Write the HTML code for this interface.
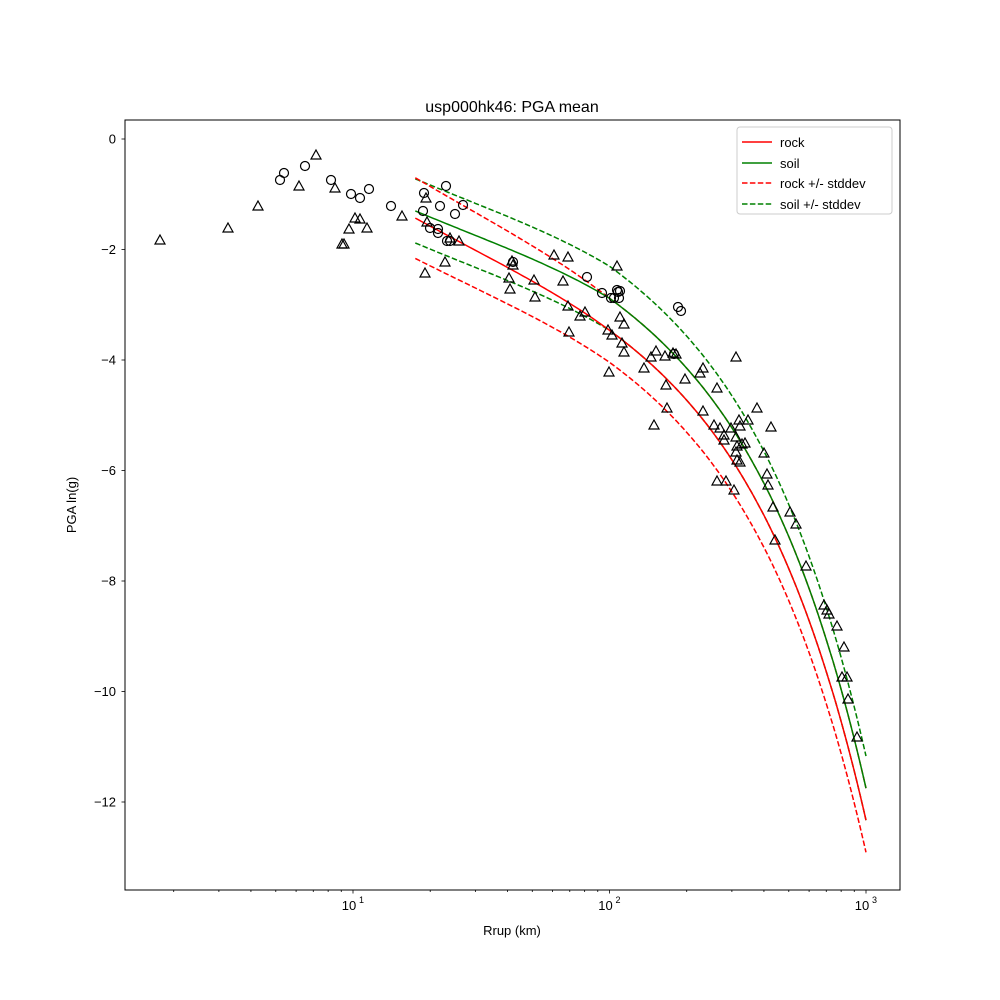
<!DOCTYPE html>
<html><head><meta charset="utf-8"><style>
body{margin:0;background:#fff}
svg{display:block;font-family:"Liberation Sans","DejaVu Sans",sans-serif}
</style></head><body>
<svg id="s" width="1000" height="1000" viewBox="0 0 1000 1000" xmlns="http://www.w3.org/2000/svg">
<rect width="1000" height="1000" fill="#fff"/>
<g id="curves" fill="none" stroke-width="1.5"></g>
<g id="pts" fill="none" stroke="#000" stroke-width="1.2"></g>
<rect x="125" y="120" width="775" height="770" fill="none" stroke="#000" stroke-width="1"/>
<g id="ticks" stroke="#000" stroke-width="0.8"></g>
<g id="labels" font-size="13" fill="#000"></g>
<text x="512" y="112" font-size="16" text-anchor="middle">usp000hk46: PGA mean</text>
<text x="512" y="935" font-size="13" text-anchor="middle">Rrup (km)</text>
<text x="0" y="0" font-size="13" text-anchor="middle" transform="translate(76,505) rotate(-90)">PGA ln(g)</text>
<g>
<rect x="737" y="127" width="155" height="87" fill="#fff" fill-opacity="0.8" stroke="#ccc" rx="3"/>
<line x1="742" y1="142" x2="772" y2="142" stroke="#f00" stroke-width="1.5"/>
<text x="780" y="147" font-size="13">rock</text>
<line x1="742" y1="163" x2="772" y2="163" stroke="#008000" stroke-width="1.5"/>
<text x="780" y="168" font-size="13">soil</text>
<line x1="742" y1="183" x2="772" y2="183" stroke="#f00" stroke-width="1.5" stroke-dasharray="5.5,2.4"/>
<text x="780" y="188" font-size="13">rock +/- stddev</text>
<line x1="742" y1="204" x2="772" y2="204" stroke="#008000" stroke-width="1.5" stroke-dasharray="5.5,2.4"/>
<text x="780" y="209" font-size="13">soil +/- stddev</text>
</g>
</svg>
<script>
const NS="http://www.w3.org/2000/svg";
function el(p,t,a,txt){const e=document.createElementNS(NS,t);for(const k in a)e.setAttribute(k,a[k]);if(txt!==undefined)e.textContent=txt;document.getElementById(p).appendChild(e);return e;}
const X=r=>353+256.5*(Math.log10(r)-1);
const Y=v=>139-55.25*v;
for(let v=-12;v<=0;v+=2){const y=Y(v);el('ticks','line',{x1:121.5,y1:y,x2:125,y2:y});
 el('labels','text',{x:116,y:y+4.5,'text-anchor':'end'},(v<0?'\u2212':'')+Math.abs(v));}
for(let d=0;d<=3;d++){for(let k=1;k<10;k++){const r=k*Math.pow(10,d);const x=X(r);if(x<125||x>900)continue;
 if(k==1){el('ticks','line',{x1:x,y1:890,x2:x,y2:893.5});
  el('labels','text',{x:x-4,y:910,'text-anchor':'middle'},'10');
  el('labels','text',{x:x+6,y:903,'font-size':'9'},String(d));}
 else el('ticks','line',{x1:x,y1:890,x2:x,y2:892});}}
const L0=Math.log10(17.5);
function rock(lr){const r=Math.pow(10,lr);return 0.98-1.83*lr-0.00782*r-0.3*(lr-L0)*(lr-2)*(lr-3);}
function ramp(lr){return Math.max(0,Math.min(1,(2-lr)/(2-L0)));}
const sr=lr=>0.58+0.15*ramp(lr);
const off=lr=>0.58-0.45*ramp(lr);
const ss=lr=>0.58;
const soil=lr=>rock(lr)+off(lr);
function mk(f){let d='';for(let i=0;i<=150;i++){const lr=L0+(3-L0)*i/150;
 d+=(i?'L':'M')+X(Math.pow(10,lr)).toFixed(1)+' '+Y(f(lr)).toFixed(1);}return d;}
const curves=[
 [lr=>soil(lr)+ss(lr),'#008000',true],[lr=>soil(lr)-ss(lr),'#008000',true],
 [lr=>rock(lr)+sr(lr),'#f00',true],[lr=>rock(lr)-sr(lr),'#f00',true],
 [soil,'#008000',false],[rock,'#f00',false]];
for(const [f,col,dash] of curves){const a={d:mk(f),stroke:col};if(dash)a['stroke-dasharray']='5.5,2.4';el('curves','path',a);}
const tri=[[160,240],[228,228],[258,206],[299,186],[316,155],[335,188],[342,244],[344,244],[349,229],[355,218],[360,219],[367,228],[402,216],[425,273],[426,198],[427,222],[445,262],[450,238],[459,241],[509,278],[510,289],[512,261],[513,265],[534,280],[535,297],[554,255],[563,281],[568,257],[568,306],[569,332],[580,316],[585,312],[608,330],[609,372],[612,335],[617,266],[620,317],[622,343],[624,324],[624,352],[644,368],[651,357],[654,425],[656,351],[665,356],[666,385],[667,408],[673,353],[676,354],[685,379],[700,373],[703,411],[703,368],[714,425],[717,388],[717,481],[720,428],[724,435],[724,440],[726,481],[731,428],[734,490],[736,357],[736,437],[736,452],[737,460],[737,446],[739,420],[740,426],[740,462],[742,444],[745,443],[748,420],[757,408],[764,453],[767,474],[768,485],[771,427],[773,507],[775,540],[790,512],[796,524],[806,566],[824,605],[827,610],[829,614],[837,626],[844,647],[847,677],[848,699],[857,737],[842,677]];
const cir=[[280,180],[284,173],[305,166],[331,180],[351,194],[360,198],[369,189],[391,206],[424,193],[423,211],[430,228],[438,229],[438,233],[440,206],[446,186],[447,241],[450,241],[455,214],[463,205],[513,262],[587,277],[602,293],[611,298],[614,298],[617,290],[618,292],[619,298],[620,291],[678,307],[681,311],[674,354]];
for(const [x,y] of tri)el('pts','path',{d:`M${x} ${y-5}L${x+5} ${y+4}L${x-5} ${y+4}Z`});
for(const [x,y] of cir)el('pts','circle',{cx:x,cy:y,r:4.5});
</script>
</body></html>
